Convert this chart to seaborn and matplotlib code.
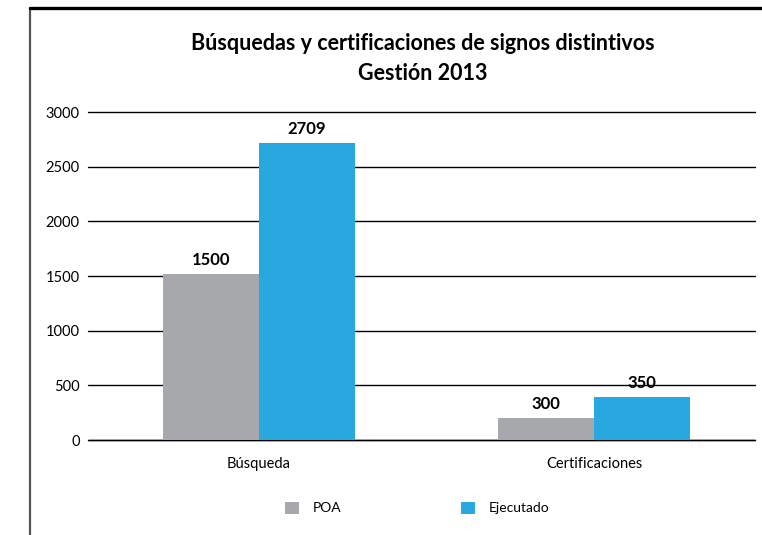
import matplotlib
matplotlib.use("Agg")
import matplotlib.pyplot as plt
import seaborn as sns
import pandas as pd
from matplotlib.lines import Line2D
from matplotlib.patches import Patch

# Data
categorias = ["Búsqueda", "Certificaciones"]
series = ["POA", "Ejecutado"]
alturas_poa = [1518, 201]        # bar heights as drawn
alturas_ejecutado = [2717, 393]
etiquetas_poa = ["1500", "300"]  # printed value labels
etiquetas_ejecutado = ["2709", "350"]
colores = ["#A7A8AB", "#29A8E0"]

df = pd.DataFrame({
    "categoria": categorias * 2,
    "serie": [series[0]] * 2 + [series[1]] * 2,
    "valor": alturas_poa + alturas_ejecutado,
})

sns.set_theme(style="white")
plt.rcParams["font.family"] = ["Lato", "DejaVu Sans"]
plt.rcParams["text.color"] = "black"

fig = plt.figure(figsize=(7.62, 5.35), dpi=100)
ax = fig.add_axes([88 / 762, 1 - 440 / 535, (755 - 88) / 762, (440 - 112) / 535])

sns.barplot(data=df, x="categoria", y="valor", hue="serie", palette=colores,
            width=0.573, saturation=1, ax=ax, legend=False, zorder=3,
            linewidth=0, edgecolor="none")

ax.set_ylim(0, 3000)
ax.set_xlim(-0.51, 1.48)
ax.set_yticks(range(0, 3001, 500))
ax.yaxis.grid(True, color="black", linewidth=1, clip_on=False)
ax.set_axisbelow(True)
ax.axhline(0, color="black", linewidth=1, zorder=2, clip_on=False)
for s in ax.spines.values():
    s.set_visible(False)
ax.tick_params(axis="y", labelsize=10.5, pad=6, length=0, labelcolor="black")
ax.tick_params(axis="x", labelsize=10.5, pad=12, length=0, labelcolor="black")
ax.set_xlabel("")
ax.set_ylabel("")

# value labels
etiquetas = etiquetas_poa + etiquetas_ejecutado
for bar, txt in zip(ax.patches, etiquetas):
    ax.annotate(txt, (bar.get_x() + bar.get_width() / 2, bar.get_height()),
                xytext=(0, 4), textcoords="offset points", ha="center",
                va="bottom", fontsize=12, fontweight="bold", color="black")

# title
fig.text(0.555, 1 - 44 / 535, "Búsquedas y certificaciones de signos distintivos",
         ha="center", va="center", fontsize=15.5, fontweight="bold")
fig.text(0.555, 1 - 74 / 535, "Gestión 2013",
         ha="center", va="center", fontsize=15.5, fontweight="bold")

# legend
handles = [Patch(facecolor=c, edgecolor="none") for c in colores]
fig.legend(handles, series, loc="center", bbox_to_anchor=(0.548, 1 - 508 / 535),
           ncol=2, frameon=False, fontsize=10, handlelength=1.0, handleheight=1.0,
           columnspacing=8.6, handletextpad=1.0)

# frame around the chart
fig.add_artist(Line2D([30 / 762, 30 / 762], [0, 1 - 8 / 535], color="#555555",
                      linewidth=1.6, transform=fig.transFigure))
fig.add_artist(Line2D([30 / 762, 1], [1 - 8 / 535, 1 - 8 / 535], color="black",
                      linewidth=2.4, transform=fig.transFigure))

plt.savefig("out.png", dpi=100)
